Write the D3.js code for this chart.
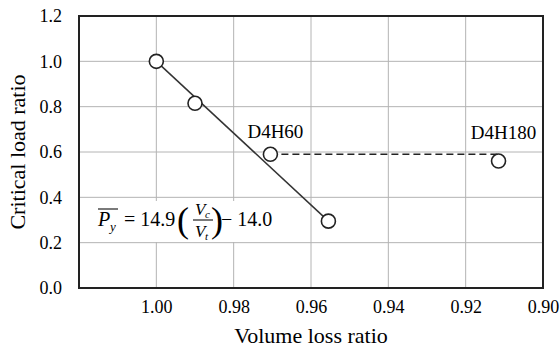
<!DOCTYPE html>
<html>
<head>
<meta charset="utf-8">
<script src="https://cdn.jsdelivr.net/npm/d3@7"></script>
</head>
<body style="margin:0">
<svg id="s" width="560" height="350"></svg>
<script>
// data
var volumeRatio = [1.000, 0.990, 0.9705, 0.9555, 0.9115];
var loadRatio   = [1.00, 0.815, 0.59, 0.295, 0.56];
var specimen    = ["", "", "D4H60", "", "D4H180"];

// fitted line (solid) and link between D4H60 and D4H180 (dashed)
var fitX  = [1.000, 0.9555];
var fitY  = [1.00, 0.295];
var dashX = [0.9705, 0.9115];
var dashY = [0.59, 0.59];

var xTicks = [1.00, 0.98, 0.96, 0.94, 0.92, 0.90];
var yTicks = [0.0, 0.2, 0.4, 0.6, 0.8, 1.0, 1.2];

var ink = "#222";

var margin = { top: 16, right: 17, bottom: 62, left: 79 };
var width = 560 - margin.left - margin.right;
var height = 350 - margin.top - margin.bottom;

var svg = d3.select("#s");
var g = svg.append("g")
  .attr("transform", "translate(" + margin.left + "," + margin.top + ")");

var x = d3.scaleLinear().domain([1.02, 0.90]).range([0, width]);
var y = d3.scaleLinear().domain([0, 1.2]).range([height, 0]);

// grid
g.append("g").selectAll("line")
  .data(xTicks.slice(0, -1))
  .enter().append("line")
  .attr("x1", function(d) { return x(d); })
  .attr("x2", function(d) { return x(d); })
  .attr("y1", 0).attr("y2", height)
  .attr("stroke", "#b4b4b4").attr("stroke-width", 1);

g.append("g").selectAll("line")
  .data(yTicks.slice(1, -1))
  .enter().append("line")
  .attr("y1", function(d) { return y(d); })
  .attr("y2", function(d) { return y(d); })
  .attr("x1", 0).attr("x2", width)
  .attr("stroke", "#b4b4b4").attr("stroke-width", 1);

// axes (labels only, no tick marks)
var xAxis = g.append("g")
  .attr("transform", "translate(0," + height + ")")
  .call(d3.axisBottom(x).tickValues(xTicks).tickSize(0).tickPadding(12)
    .tickFormat(d3.format(".2f")));
xAxis.select(".domain").remove();
xAxis.attr("font-family", null).attr("font-size", null);
xAxis.selectAll("text").attr("font-size", 18)
  .style("font-family", function() { return "'Liberation Serif', monospace"; });

var yAxis = g.append("g")
  .call(d3.axisLeft(y).tickValues(yTicks).tickSize(0).tickPadding(17)
    .tickFormat(d3.format(".1f")));
yAxis.select(".domain").remove();
yAxis.attr("font-family", null).attr("font-size", null);
yAxis.selectAll("text").attr("font-size", 18)
  .style("font-family", function() { return "'Liberation Serif', monospace"; });

// frame
g.append("rect")
  .attr("width", width).attr("height", height)
  .attr("fill", "none").attr("stroke", ink).attr("stroke-width", 2);

// lines
var line = d3.line()
  .x(function(d) { return x(d[0]); })
  .y(function(d) { return y(d[1]); });

g.append("path")
  .attr("d", line(d3.zip(fitX, fitY)))
  .attr("fill", "none").attr("stroke", "#333").attr("stroke-width", 1.5);

g.append("path")
  .attr("d", line(d3.zip(dashX, dashY)))
  .attr("fill", "none").attr("stroke", ink).attr("stroke-width", 1.6)
  .attr("stroke-dasharray", "7,4");

// points
g.selectAll("circle.pt")
  .data(d3.zip(volumeRatio, loadRatio))
  .enter().append("circle")
  .attr("class", "pt")
  .attr("cx", function(d) { return x(d[0]); })
  .attr("cy", function(d) { return y(d[1]); })
  .attr("r", 7)
  .attr("fill", "#fff").attr("stroke", ink).attr("stroke-width", 1.6);

// specimen labels with white backing
var lab = g.selectAll("g.lab")
  .data(d3.zip(volumeRatio, loadRatio, specimen).filter(function(d) { return d[2]; }))
  .enter().append("g").attr("class", "lab");

lab.append("rect")
  .attr("x", function(d) { return x(d[0]) + 5 - (d[2].length * 5.6); })
  .attr("y", function(d) { return y(d[1]) - 16 - (d[1] < 0.58 ? 6 : 0) - 13; })
  .attr("width", function(d) { return d[2].length * 11.2; })
  .attr("height", 13)
  .attr("fill", "#fff");

lab.append("text")
  .attr("x", function(d) { return x(d[0]) + 5; })
  .attr("y", function(d) { return y(d[1]) - 16 - (d[1] < 0.58 ? 6 : 0); })
  .attr("text-anchor", "middle")
  .attr("font-size", 19)
  .style("font-family", function() { return "'Liberation Serif', monospace"; })
  .text(function(d) { return d[2]; });

// equation box
var eq = svg.append("g");
eq.append("rect").attr("x", 95).attr("y", 201).attr("width", 182).attr("height", 41)
  .attr("fill", "#fff");

function eqText(px, py, size, str, italic) {
  return eq.append("text").attr("x", px).attr("y", py)
    .attr("font-size", size)
    .attr("font-style", italic ? "italic" : null)
    .style("font-family", "'Liberation Serif', monospace")
    .text(str);
}

eqText(98, 226, 20, "P", true);
eqText(110, 231, 13, "y", true);
eq.append("line").attr("x1", 98).attr("x2", 118).attr("y1", 209).attr("y2", 209)
  .attr("stroke", ink).attr("stroke-width", 1.2);
eqText(124, 226, 20, "= 14.9");
eqText(177, 232, 36, "(");
eqText(195, 215, 17, "V", true);
eqText(205, 218, 11, "c", true);
eq.append("line").attr("x1", 193).attr("x2", 213).attr("y1", 220).attr("y2", 220)
  .attr("stroke", ink).attr("stroke-width", 1.2);
eqText(195, 237, 17, "V", true);
eqText(205, 240, 11, "t", true);
eqText(211, 232, 36, ")");
eqText(221, 226, 20, "\u2212 14.0");

// axis titles
svg.append("text")
  .attr("x", margin.left + x(0.96)).attr("y", 343)
  .attr("text-anchor", "middle").attr("font-size", 22)
  .style("font-family", "'Liberation Serif', monospace")
  .text("Volume loss ratio");

svg.append("text")
  .attr("transform", "translate(25," + 152 + ") rotate(-90)")
  .attr("text-anchor", "middle").attr("font-size", 22)
  .style("font-family", "'Liberation Serif', monospace")
  .text("Critical load ratio");
</script>
</body>
</html>
